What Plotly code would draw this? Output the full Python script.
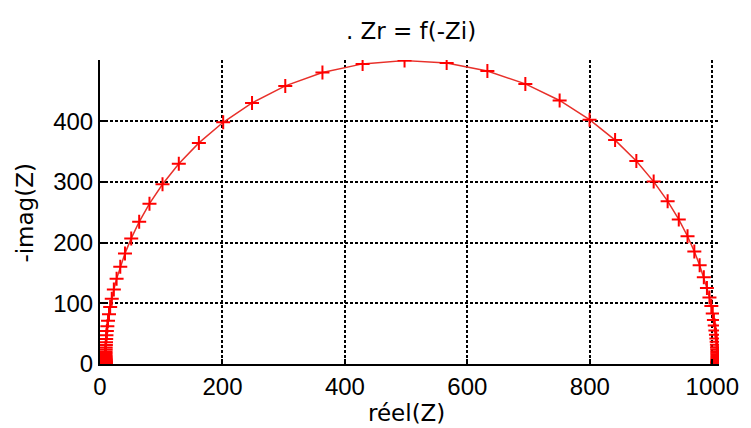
import plotly.graph_objects as go

# Nyquist diagram: real part vs. negative imaginary part of Z (ohms)
zr = [
    1008.8, 1008.8, 1008.8, 1008.8, 1008.8, 1008.8, 1008.8, 1008.8, 1008.8,
    1008.8, 1008.8, 1008.8, 1008.8, 1008.8, 1008.8, 1008.8, 1008.8, 1008.8,
    1008.7, 1008.6, 1008.5, 1008.4, 1008.3, 1008.1, 1007.8, 1007.6, 1007.2,
    1006.6, 1006.0, 1005.1, 1004.1, 1002.7, 1000.8, 998.5, 995.4, 991.3,
    986.2, 979.4, 970.7, 959.6, 945.3, 927.1, 904.3, 876.0, 841.3, 799.6,
    750.7, 694.7, 632.7, 566.2,
    497.4, 428.9, 363.3, 302.6, 248.3, 201.2, 161.5, 128.7, 102.1, 80.8,
    64.0, 51.0, 40.8, 33.1, 27.1, 22.6, 19.2, 16.6, 14.7, 13.1,
    12.0, 11.2, 10.5, 10.1, 9.8, 9.6, 9.3, 9.3, 9.1, 9.0,
    9.0, 9.0, 9.0, 9.0, 9.0, 9.0, 9.0, 9.0, 9.0, 9.0,
    9.0, 9.0, 9.0, 9.0, 9.0, 9.0, 9.0, 9.0, 9.0, 9.0,
]
neg_zi = [
    1.0, 1.2, 1.3, 1.5, 1.8, 2.0, 2.3, 2.7, 3.1,
    3.5, 4.0, 4.6, 5.3, 6.1, 7.0, 8.0, 9.2, 10.6,
    12.1, 13.9, 16.0, 18.4, 21.1, 24.2, 27.8, 31.9, 36.6,
    42.0, 48.2, 55.3, 63.4, 72.7, 83.4, 95.5, 109.4, 125.1,
    142.9, 162.9, 185.5, 210.5, 238.2, 268.4, 300.6, 334.5, 369.0, 402.7,
    434.3, 461.6, 482.7, 495.9,
    500.0, 494.6, 480.3, 458.3, 430.3, 398.4, 364.4, 329.9, 296.2, 264.2,
    234.4, 207.0, 182.3, 160.1, 140.3, 122.8, 107.4, 93.8, 81.9, 71.4,
    62.3, 54.3, 47.3, 41.2, 35.9, 31.3, 27.3, 23.8, 20.7, 18.0,
    15.7, 13.7, 11.9, 10.4, 9.0, 7.9, 6.9, 6.0, 5.2, 4.5,
    3.9, 3.4, 3.0, 2.6, 2.3, 2.0, 1.7, 1.5, 1.3, 1.1,
]

x_ticks = [0, 200, 400, 600, 800, 1000]
y_ticks = [0, 100, 200, 300, 400]

title_text = ". Zr = f(-Zi)"
x_label = "réel(Z)"
y_label = "-imag(Z)"

W, H = 751, 428
ML, MR, MT, MB = 100, 27, 60, 64
PW, PH = W - ML - MR, H - MT - MB

fig = go.Figure()
fig.add_trace(go.Scatter(
    x=zr, y=neg_zi,
    mode="lines+markers",
    line=dict(color="#e8302a", width=1.5),
    marker=dict(symbol="cross-thin", size=10,
                line=dict(color="#ff0000", width=2)),
    hoverinfo="skip",
    showlegend=False,
))

tick_font = dict(family="Liberation Sans, Arial, sans-serif", size=24, color="#000")
axis_common = dict(
    showline=True, linecolor="black", linewidth=2,
    ticks="inside", ticklen=5, tickwidth=1.5, tickcolor="black",
    showgrid=True, gridcolor="black", gridwidth=1.6, griddash="3px,2px",
    zeroline=False, tickfont=tick_font, mirror=False,
)

fig.update_xaxes(range=[0, 1011], tickvals=x_ticks, **axis_common)
fig.update_yaxes(range=[0, 501], tickvals=y_ticks, **axis_common)

lab_font = dict(family="DejaVu Sans, sans-serif", size=23, color="#000")


def px_x(p):
    return (p - ML) / PW


def px_y(p):
    return (H - MB - p) / PH


fig.update_layout(
    width=W, height=H,
    margin=dict(l=ML, r=MR, t=MT, b=MB),
    paper_bgcolor="white", plot_bgcolor="white",
    title=dict(text=title_text, x=411 / W, xanchor="center",
               y=1 - 31 / H, yanchor="middle", yref="container",
               font=dict(family="DejaVu Sans, sans-serif", size=23, color="#000")),
    annotations=[
        dict(text=x_label, xref="paper", yref="paper",
             x=px_x(409), y=px_y(413), xanchor="center", yanchor="middle",
             showarrow=False, font=lab_font),
        dict(text=y_label, xref="paper", yref="paper",
             x=px_x(24), y=px_y(213), xanchor="center", yanchor="middle",
             textangle=-90, showarrow=False, font=lab_font),
    ],
)

fig.write_html("out.html", config={"displayModeBar": False})
